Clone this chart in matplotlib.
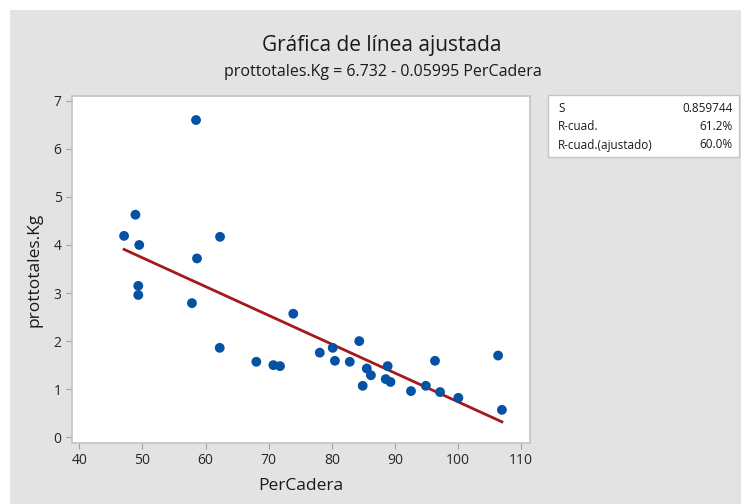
import matplotlib.pyplot as plt
import numpy as np

# valores
per_cadera = [47.1, 48.9, 49.35, 49.35, 49.5, 57.85, 58.5, 58.65, 62.25, 62.3,
              68.05, 70.75, 71.8, 73.9, 78.1, 80.15, 80.5, 82.85, 84.35, 84.9,
              85.55, 86.2, 88.55, 88.85, 89.3, 92.55, 94.9, 96.35, 97.15, 100.05,
              106.35, 106.95]
prot_kg = [4.19, 4.63, 3.15, 2.96, 4.00, 2.79, 6.60, 3.72, 1.86, 4.17,
           1.57, 1.50, 1.48, 2.57, 1.76, 1.86, 1.59, 1.57, 2.00, 1.07,
           1.43, 1.29, 1.21, 1.48, 1.15, 0.96, 1.07, 1.59, 0.94, 0.82,
           1.70, 0.57]

intercept = 6.732
slope = -0.05995
stats_labels = ["S", "R-cuad.", "R-cuad.(ajustado)"]
stats_values = ["0.859744", "61.2%", "60.0%"]

plt.rcParams['font.family'] = ['Open Sans', 'DejaVu Sans']

BG = "#e3e3e3"
fig = plt.figure(figsize=(7.41, 5.04), dpi=100)
fig.patch.set_facecolor("white")
# fondo gris con borde blanco arriba e izquierda
fig.patches.append(plt.Rectangle((10 / 741, 0), 1, 1 - 10 / 504, transform=fig.transFigure,
                                 facecolor=BG, edgecolor="none", zorder=-10))

ax = fig.add_axes([72 / 741, 1 - 443 / 504, (530 - 72) / 741, (443 - 96) / 504])
ax.set_facecolor("white")

x = np.array(per_cadera)
xs = np.array([x.min(), x.max()])
ax.plot(xs, intercept + slope * xs, color="#a3191c", lw=2.0, zorder=2)
ax.scatter(per_cadera, prot_kg, s=50, color="#0552a5", edgecolor="none", zorder=3)

ax.set_xlim(38.85, 111.4)
ax.set_ylim(-0.12, 7.1)
ax.set_xticks(range(40, 111, 10))
ax.set_yticks(range(0, 8))
for s in ax.spines.values():
    s.set_color("#c4c4c4")
    s.set_linewidth(1.2)
ax.tick_params(color="#a0a0a0", length=4, width=0.8, labelsize=10, labelcolor="#262626")
ax.set_xlabel("PerCadera", fontsize=12.5, color="#1a1a1a", labelpad=7)
ax.set_ylabel("prottotales.Kg", fontsize=12.5, color="#1a1a1a", labelpad=8)

fig.text(382 / 741, 1 - 45 / 504, "Gráfica de línea ajustada", ha="center", va="center",
         fontsize=15, color="#1a1a1a")
fig.text(383 / 741, 1 - 72 / 504, "prottotales.Kg = 6.732 - 0.05995 PerCadera", ha="center",
         va="center", fontsize=11.5, color="#1a1a1a")

# cuadro de estadisticas
fig.patches.append(plt.Rectangle((548 / 741, 1 - 157 / 504), (739 - 548) / 741, 62 / 504,
                                 transform=fig.transFigure, facecolor="white",
                                 edgecolor="#c4c4c4", lw=1))
rows_y = [108, 127, 145]
for lab, val, yy in zip(stats_labels, stats_values, rows_y):
    fig.text(558 / 741, 1 - yy / 504, lab, ha="left", va="center", fontsize=8.5, color="#1a1a1a")
    fig.text(733 / 741, 1 - yy / 504, val, ha="right", va="center", fontsize=8.5, color="#1a1a1a")

fig.savefig("out.png", dpi=100, facecolor=fig.get_facecolor())
